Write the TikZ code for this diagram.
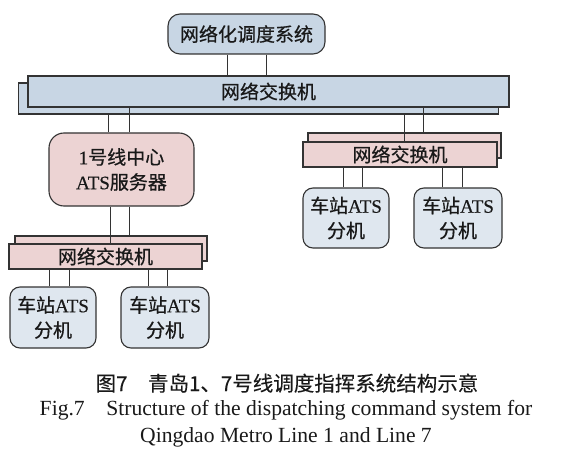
\documentclass[tikz,border=0pt]{standalone}
\usepackage{fontspec}
\setmainfont{Liberation Serif}
\newfontfamily\cjk[FakeBold=0.6]{Noto Sans CJK SC}
\newfontfamily\cjktitle[FakeBold=0.2]{Noto Sans CJK SC}
\newfontfamily\kuangzi[FakeBold=0.5]{Liberation Serif}

\definecolor{lanse}{HTML}{C8D6E4}
\definecolor{fense}{HTML}{ECD3D3}
\definecolor{qianlan}{HTML}{DFE7EF}
\definecolor{xian}{HTML}{333333}

\begin{document}
\begin{tikzpicture}[
    x=1pt, y=-1pt,
    every node/.style={text=black!90},
    kuang/.style={draw=xian, line width=1.1pt, inner sep=0pt, align=center,
        font=\kuangzi\fontsize{19}{25}\selectfont},
    jiaohuan/.style={kuang, minimum height=25pt},
    zhan/.style={kuang, rounded corners=10pt, fill=qianlan, minimum height=61pt},
    lianxian/.style={draw=xian, line width=0.9pt},
    biaoti/.style={anchor=base, font=\fontsize{21.6}{26}\selectfont}
]
\useasboundingbox (0,0) rectangle (577,470);

% Network dispatching system
\node[kuang, rounded corners=12pt, fill=lanse, minimum width=157pt, minimum height=40pt]
    (xitong) at (246.5,34) {\cjk 网络化调度系统};

% Main switch
\node[kuang, fill=lanse, minimum width=480pt, minimum height=31pt] (zhuhou) at (258.5,98.5) {};
\node[kuang, fill=lanse, minimum width=481pt, minimum height=31pt] (zhu) at (268.5,91.5) {\cjk 网络交换机};

% Line 1 centre
\node[kuang, rounded corners=15pt, fill=fense, minimum width=145pt, minimum height=73pt]
    (fuwuqi) at (121.5,169.5) {1{\cjk 号线中心}\\ATS{\cjk 服务器}};

% Left switch
\node[jiaohuan, fill=fense, minimum width=192pt] (zuohou) at (111,248.5) {};
\node[jiaohuan, fill=fense, minimum width=193pt] (zuo) at (105.5,256.5) {\cjk 网络交换机};

% Right switch
\node[jiaohuan, fill=fense, minimum width=193pt] (youhou) at (404.5,145.5) {};
\node[jiaohuan, fill=fense, minimum width=194pt] (you) at (400,154.5) {\cjk 网络交换机};

% Station ATS
\node[zhan, minimum width=86pt] (zhan1) at (53,317.5) {{\cjk 车站}ATS\\{\cjk 分机}};
\node[zhan, minimum width=88pt] (zhan2) at (165,317.5) {{\cjk 车站}ATS\\{\cjk 分机}};
\node[zhan, minimum width=86pt, minimum height=60pt] (zhan3) at (346,218) {{\cjk 车站}ATS\\{\cjk 分机}};
\node[zhan, minimum width=88pt, minimum height=60pt] (zhan4) at (458,218) {{\cjk 车站}ATS\\{\cjk 分机}};

% Connections
\foreach \dx in {-19.5,19.5}
    \draw[lianxian] ([xshift=\dx pt]xitong.south) -- ([xshift=\dx pt]xitong.south |- zhu.north);

\draw[lianxian] ([xshift=-13.5pt]fuwuqi.north) -- ([xshift=-13.5pt]fuwuqi.north |- zhuhou.south);
\draw[lianxian] ([xshift=7.5pt]fuwuqi.north) -- ([xshift=7.5pt]fuwuqi.north |- zhu.south);

\draw[lianxian] ([xshift=4pt]you.north) -- ([xshift=4pt]you.north |- zhuhou.south);
\draw[lianxian] ([xshift=18.5pt]youhou.north) -- ([xshift=18.5pt]youhou.north |- zhu.south);

\draw[lianxian] ([xshift=-11.5pt]fuwuqi.south) -- ([xshift=-11.5pt]fuwuqi.south |- zuo.north);
\draw[lianxian] ([xshift=7.5pt]fuwuqi.south) -- ([xshift=7.5pt]fuwuqi.south |- zuohou.north);

\foreach \n/\dx in {zhan1/-4, zhan1/16, zhan2/-17, zhan2/2}
    \draw[lianxian] ([xshift=\dx pt]\n.north) -- ([xshift=\dx pt]\n.north |- zuo.south);
\foreach \n/\dx in {zhan3/-3, zhan3/16, zhan4/-16, zhan4/4}
    \draw[lianxian] ([xshift=\dx pt]\n.north) -- ([xshift=\dx pt]\n.north |- you.south);

% Caption
\node[biaoti, font=\cjktitle\fontsize{20.5}{24}\selectfont] (tuming) at (287,391) {图7　青岛1、7号线调度指挥系统结构示意};
\node[biaoti] (yingwen1) at (286,415) {Fig.7\quad Structure of the dispatching command system for};
\node[biaoti] (yingwen2) at (286,442) {Qingdao Metro Line 1 and Line 7};

\end{tikzpicture}
\end{document}
